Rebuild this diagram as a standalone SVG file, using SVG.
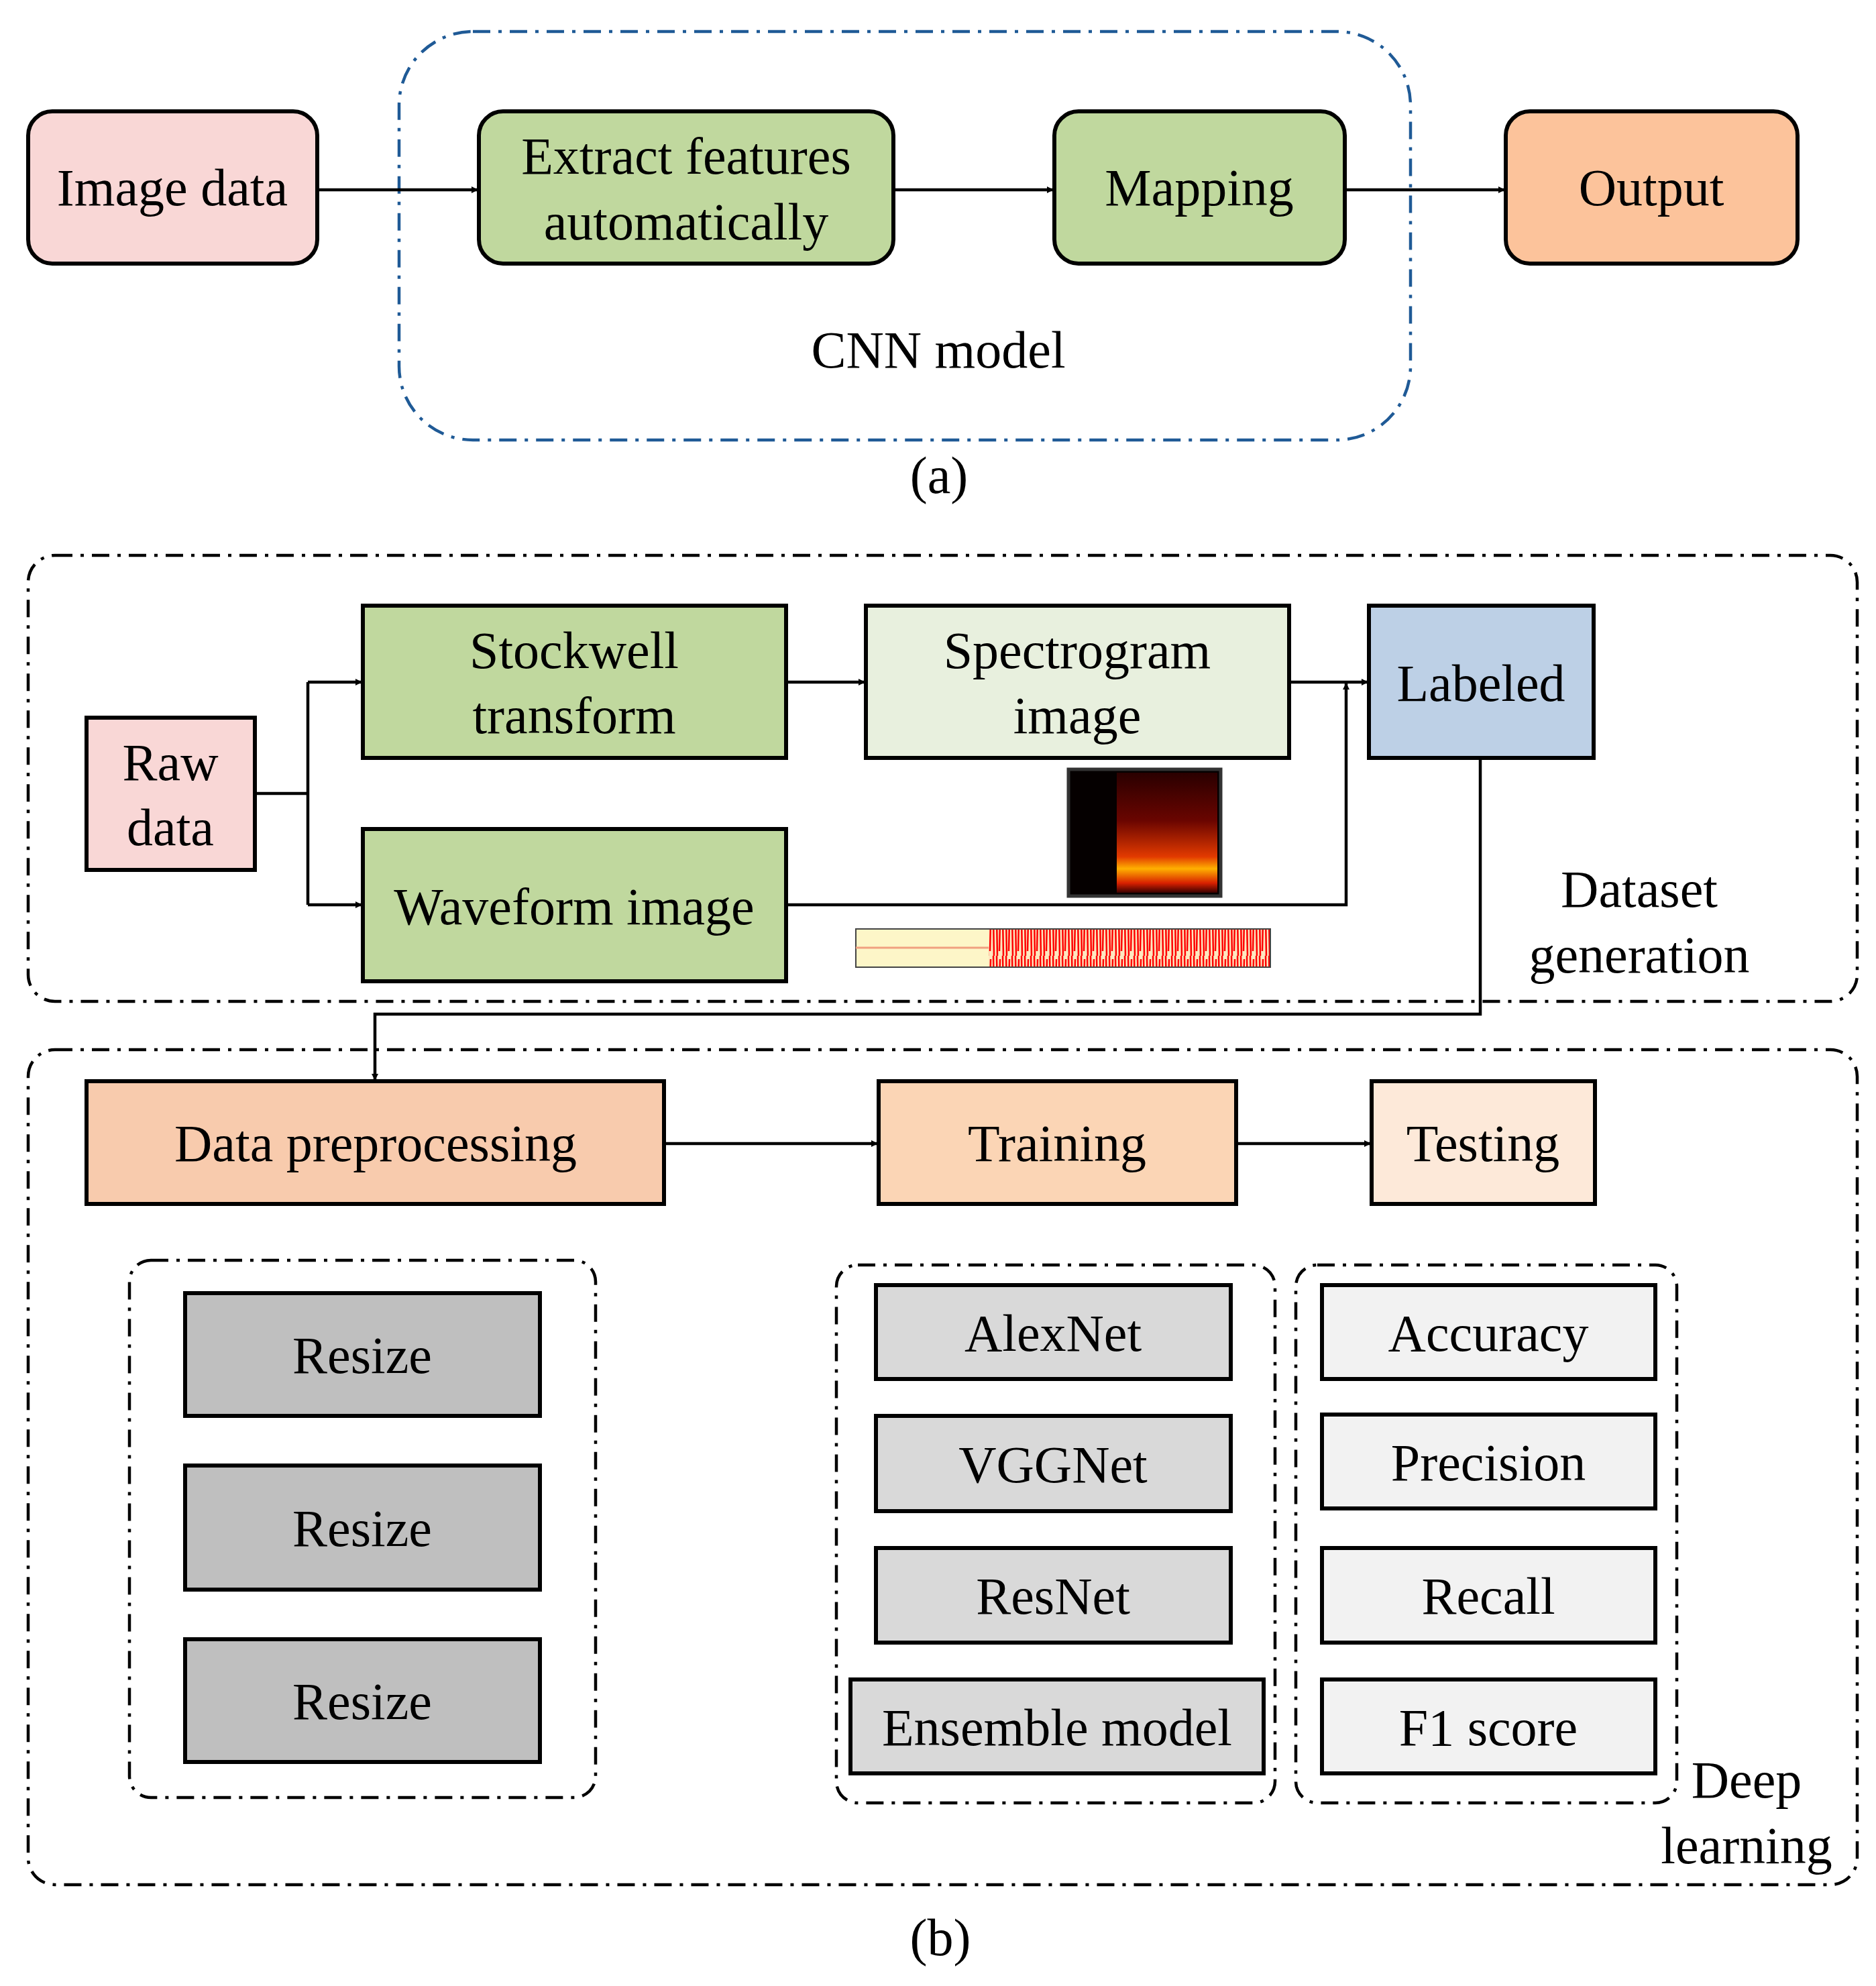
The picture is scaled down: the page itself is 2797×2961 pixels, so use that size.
<svg xmlns="http://www.w3.org/2000/svg" width="2797" height="2961" viewBox="0 0 2797 2961">
<style>
text{font-family:"Liberation Serif","Times New Roman",serif;font-size:78px;fill:#000;text-anchor:middle}
.b{stroke:#000;stroke-width:6}
.c{fill:none;stroke:#000;stroke-width:4.5}
.dd{fill:none;stroke:#000;stroke-width:4.5;stroke-dasharray:26 12 5 12}
</style>
<defs>
<marker id="ar" markerWidth="10" markerHeight="10" refX="9" refY="5" orient="auto" markerUnits="userSpaceOnUse" viewBox="0 0 10 10"><path d="M0,0 L10,5 L0,10 Z" fill="#000"/></marker>
<linearGradient id="fl" x1="0" y1="0" x2="0" y2="1">
<stop offset="0" stop-color="#2a0000"/><stop offset="0.4" stop-color="#6a0500"/><stop offset="0.7" stop-color="#e23a00"/><stop offset="0.8" stop-color="#ffb000"/><stop offset="0.92" stop-color="#d82000"/><stop offset="1" stop-color="#3a0000"/></linearGradient>
<pattern id="wv" width="14" height="57" patternUnits="userSpaceOnUse"><rect width="14" height="57" fill="#fde8c0"/><path d="M2,0 L3,57 M7,5 L6,50 M11,0 L12,57" stroke="#f00" stroke-width="2.5"/></pattern>
</defs>
<rect width="2797" height="2961" fill="#fff"/>
<g id="cnn-container"><rect x="595" y="47" width="1508" height="609" rx="110" fill="none" stroke="#1f5a96" stroke-width="4.5" stroke-dasharray="26 12 5 12"/><text x="1399" y="548">CNN model</text></g>
<g id="image-data"><rect x="42" y="166" width="431" height="227" rx="36" fill="#f9d7d6" class="b"/><text x="257" y="306">Image data</text></g>
<g id="extract"><rect x="714" y="166" width="618" height="227" rx="36" fill="#c0d89e" class="b"/><text x="1023" y="259">Extract features</text><text x="1023" y="357">automatically</text></g>
<g id="mapping"><rect x="1572" y="166" width="433" height="227" rx="36" fill="#c0d89e" class="b"/><text x="1788" y="306">Mapping</text></g>
<g id="output"><rect x="2245" y="166" width="435" height="227" rx="36" fill="#fcc39b" class="b"/><text x="2462" y="306">Output</text></g>
<text x="1400" y="735">(a)</text>

<g id="dataset-container"><rect x="42" y="828" width="2727" height="665" rx="40" class="dd"/><text x="2444" y="1352">Dataset</text><text x="2444" y="1450">generation</text></g>
<g id="raw"><rect x="129" y="1070" width="251" height="227" fill="#f9d7d6" class="b"/><text x="254" y="1163">Raw</text><text x="254" y="1260">data</text></g>
<g id="stockwell"><rect x="541" y="903" width="631" height="227" fill="#c0d89e" class="b"/><text x="856" y="996">Stockwell</text><text x="856" y="1093">transform</text></g>
<g id="spectrogram"><rect x="1291" y="903" width="631" height="227" fill="#e8f0de" class="b"/><text x="1606" y="996">Spectrogram</text><text x="1606" y="1093">image</text></g>
<g id="labeled"><rect x="2041" y="903" width="335" height="227" fill="#bdd0e6" class="b"/><text x="2208" y="1045">Labeled</text></g>
<g id="waveform"><rect x="541" y="1236" width="631" height="227" fill="#c0d89e" class="b"/><text x="856" y="1378">Waveform image</text></g>
<g id="spec-pic"><rect x="1593" y="1147" width="227" height="189" fill="#050000" stroke="#333" stroke-width="5"/><rect x="1665" y="1152" width="150" height="179" fill="url(#fl)"/></g>
<g id="wave-pic"><rect x="1276" y="1385" width="618" height="57" fill="#fdf6c8" stroke="#444" stroke-width="2"/><line x1="1276" y1="1413" x2="1474" y2="1413" stroke="#f0a080" stroke-width="3"/><rect x="1474" y="1386" width="419" height="55" fill="url(#wv)"/></g>

<g id="dl-container"><rect x="42" y="1565" width="2727" height="1245" rx="40" class="dd"/><text x="2604" y="2680">Deep</text><text x="2604" y="2778">learning</text></g>
<g id="prep"><rect x="129" y="1612" width="861" height="183" fill="#f8cbad" class="b"/><text x="560" y="1731">Data preprocessing</text></g>
<g id="training"><rect x="1310" y="1612" width="533" height="183" fill="#fbd5b5" class="b"/><text x="1576" y="1731">Training</text></g>
<g id="testing"><rect x="2045" y="1612" width="333" height="183" fill="#fde9d9" class="b"/><text x="2211" y="1731">Testing</text></g>

<g id="resize-group"><rect x="193" y="1879" width="695" height="801" rx="32" class="dd"/>
<rect x="276" y="1928" width="529" height="183" fill="#bfbfbf" class="b"/><text x="540" y="2047">Resize</text>
<rect x="276" y="2185" width="529" height="185" fill="#bfbfbf" class="b"/><text x="540" y="2305">Resize</text>
<rect x="276" y="2444" width="529" height="183" fill="#bfbfbf" class="b"/><text x="540" y="2563">Resize</text></g>
<g id="models"><rect x="1247" y="1886" width="654" height="802" rx="32" class="dd"/>
<rect x="1306" y="1916" width="529" height="140" fill="#d9d9d9" class="b"/><text x="1570" y="2014">AlexNet</text>
<rect x="1306" y="2111" width="529" height="142" fill="#d9d9d9" class="b"/><text x="1570" y="2210">VGGNet</text>
<rect x="1306" y="2308" width="529" height="141" fill="#d9d9d9" class="b"/><text x="1570" y="2406">ResNet</text>
<rect x="1268" y="2504" width="616" height="140" fill="#d9d9d9" class="b"/><text x="1576" y="2602">Ensemble model</text></g>
<g id="metrics"><rect x="1932" y="1886" width="568" height="802" rx="32" class="dd"/>
<rect x="1971" y="1916" width="497" height="140" fill="#f2f2f2" class="b"/><text x="2219" y="2014">Accuracy</text>
<rect x="1971" y="2109" width="497" height="140" fill="#f2f2f2" class="b"/><text x="2219" y="2207">Precision</text>
<rect x="1971" y="2308" width="497" height="141" fill="#f2f2f2" class="b"/><text x="2219" y="2406">Recall</text>
<rect x="1971" y="2504" width="497" height="140" fill="#f2f2f2" class="b"/><text x="2219" y="2602">F1 score</text></g>
<text x="1402" y="2915">(b)</text>

<g id="connectors">
<line x1="473" y1="283" x2="712" y2="283" class="c" marker-end="url(#ar)"/>
<line x1="1332" y1="283" x2="1570" y2="283" class="c" marker-end="url(#ar)"/>
<line x1="2005" y1="283" x2="2243" y2="283" class="c" marker-end="url(#ar)"/>
<polyline points="380,1183 459,1183" class="c"/>
<polyline points="459,1017 459,1349" class="c"/>
<line x1="459" y1="1017" x2="539" y2="1017" class="c" marker-end="url(#ar)"/>
<line x1="459" y1="1349" x2="539" y2="1349" class="c" marker-end="url(#ar)"/>
<line x1="1172" y1="1017" x2="1289" y2="1017" class="c" marker-end="url(#ar)"/>
<line x1="1922" y1="1017" x2="2039" y2="1017" class="c" marker-end="url(#ar)"/>
<polyline points="1172,1349 2007,1349 2007,1019" class="c" marker-end="url(#ar)"/>
<polyline points="2207,1130 2207,1512 559,1512 559,1610" class="c" marker-end="url(#ar)"/>
<line x1="990" y1="1705" x2="1308" y2="1705" class="c" marker-end="url(#ar)"/>
<line x1="1843" y1="1705" x2="2043" y2="1705" class="c" marker-end="url(#ar)"/>
</g>
</svg>
